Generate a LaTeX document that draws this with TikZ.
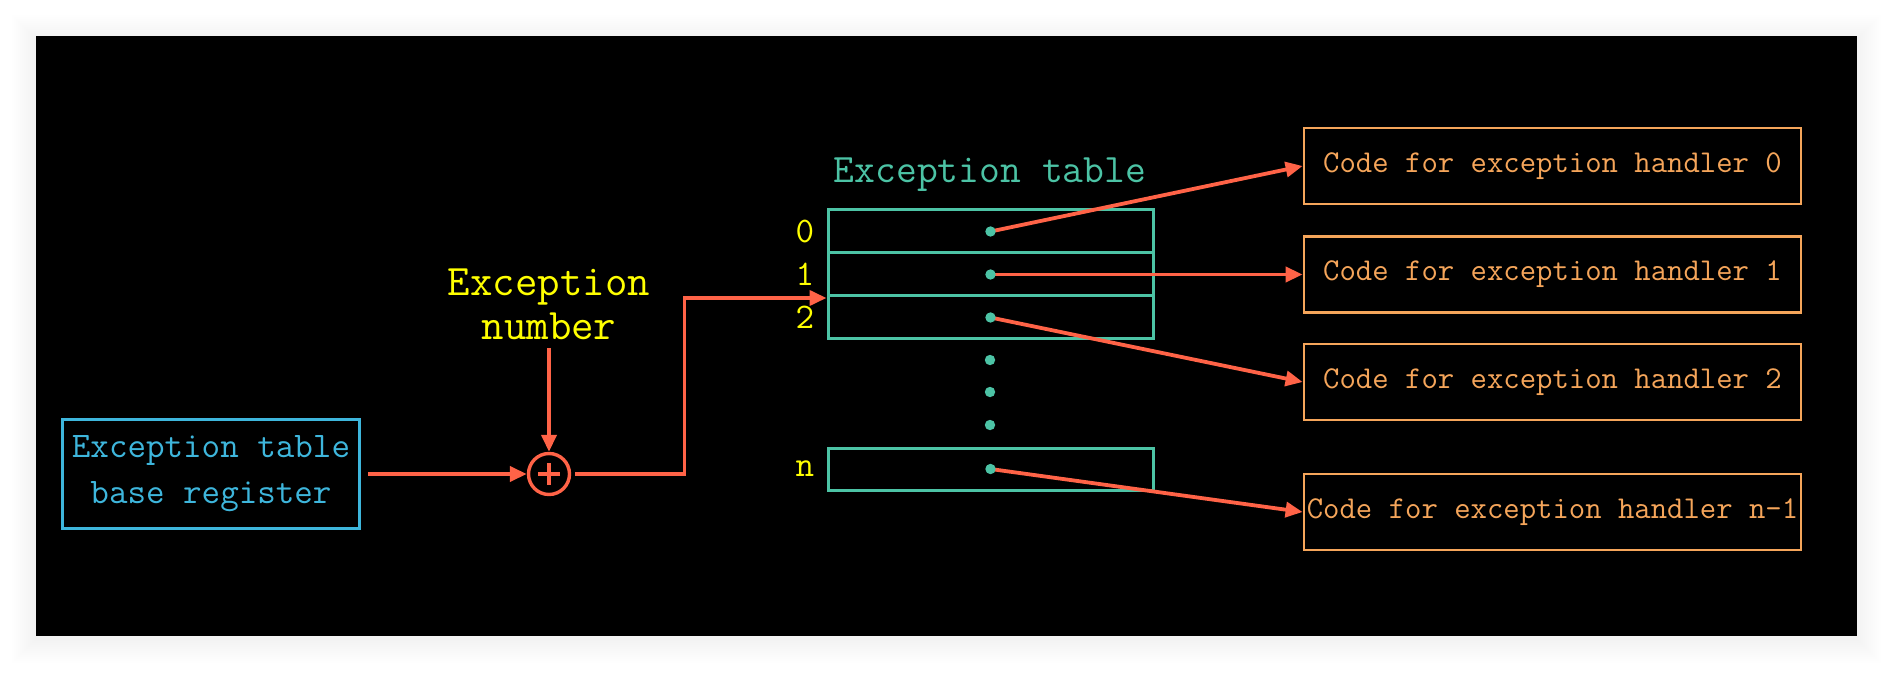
\documentclass[tikz,border=0pt]{standalone}
\usepackage{fontspec}
\usetikzlibrary{arrows.meta}
\definecolor{arr}{HTML}{FF6347}
\definecolor{tealc}{HTML}{4CC3A5}
\definecolor{bluc}{HTML}{3EB6DC}
\definecolor{yelc}{HTML}{FFFF00}
\definecolor{orgc}{HTML}{F5A55A}
\begin{document}
\begin{tikzpicture}[x=0.5pt,y=-0.5pt,
  conn/.style={draw=arr, line width=1.9pt, -{Triangle[length=8.5pt,width=7.5pt]}},
  blubox/.style={draw=bluc, line width=1.5pt, text=bluc, align=center,
    minimum width=148.5pt, minimum height=54.5pt, inner sep=1pt,
    font=\ttfamily\fontsize{18}{23}\selectfont},
  cell/.style={draw=tealc, line width=1.5pt, minimum width=162.5pt, minimum height=21.5pt, inner sep=0pt},
  hbox/.style={draw=orgc, line width=1.4pt, text=orgc, minimum width=248.5pt,
    minimum height=38pt, inner sep=1pt, font=\ttfamily\fontsize{15.9}{19}\selectfont},
  lbl/.style={text=yelc, anchor=east, inner sep=6pt, font=\ttfamily\fontsize{18}{22}\selectfont},
  dotn/.style={circle, fill=tealc, minimum size=5.2pt, inner sep=0pt},
  plusn/.style={circle, draw=arr, line width=1.7pt, minimum size=20.5pt, inner sep=0pt}
]
% page and shadow
\fill[white] (0,0) rectangle (1893,673);
\foreach \i in {1,...,12}{
  \fill[black, opacity=0.005] ({36-\i*2},{36-\i*2+3}) rectangle ({1857+\i*2},{636+\i*2+3});
}
\fill[black] (36,36) rectangle (1857,636);

% left part
\node[blubox] (base) at (211,474) {Exception table\\base register};
\node[plusn] (plus) at (549,474) {};
\draw[arr, line width=1.6pt] (plus.center) ++(-11,0) -- ++(22,0);
\draw[arr, line width=1.6pt] (plus.center) ++(0,-11) -- ++(0,22);
\node[text=yelc, align=center, anchor=south, inner sep=4pt,
  font=\ttfamily\fontsize{21.8}{21.75}\selectfont] (exnum) at (549,348) {Exception\\number};

% table
\node[text=tealc, font=\ttfamily\fontsize{20.2}{23}\selectfont] (ttl) at (990,175) {Exception table};
\node[cell] (r0) at (990.5,231.5) {};
\node[cell] (r1) at (990.5,274.5) {};
\node[cell] (r2) at (990.5,317.5) {};
\node[cell, minimum height=21pt] (rn) at (990.5,469) {};
\node[lbl] (l0) at (r0.west) {0};
\node[lbl] (l1) at (r1.west) {1};
\node[lbl] (l2) at (r2.west) {2};
\node[lbl] (ln) at (rn.west) {n};

% handler boxes
\node[hbox] (h0) at (1552.5,166) {Code for exception handler 0};
\node[hbox] (h1) at (1552.5,274.5) {Code for exception handler 1};
\node[hbox] (h2) at (1552.5,382) {Code for exception handler 2};
\node[hbox] (hn) at (1552.5,512) {Code for exception handler n-1};

% connectors
\draw[conn, shorten <=3.5pt] (base.east) -- (plus.west);
\draw[conn] (exnum.south) -- (plus.north);
\coordinate (bend) at (684.5,298);
\draw[conn, shorten <=2pt] (plus.east) -| (bend) -- (bend -| r2.west);
\draw[conn] (r0.center) -- (h0.west);
\draw[conn] (r1.center) -- (h1.west);
\draw[conn] (r2.center) -- (h2.west);
\draw[conn] (rn.center) -- (hn.west);

% dots
\node[dotn] (d0) at (r0.center) {};
\node[dotn] (d1) at (r1.center) {};
\node[dotn] (d2) at (r2.center) {};
\node[dotn] (dn) at (rn.center) {};
\node[dotn] (v1) at (990,360) {};
\node[dotn] (v2) at (990,392) {};
\node[dotn] (v3) at (990,425) {};
\end{tikzpicture}
\end{document}
